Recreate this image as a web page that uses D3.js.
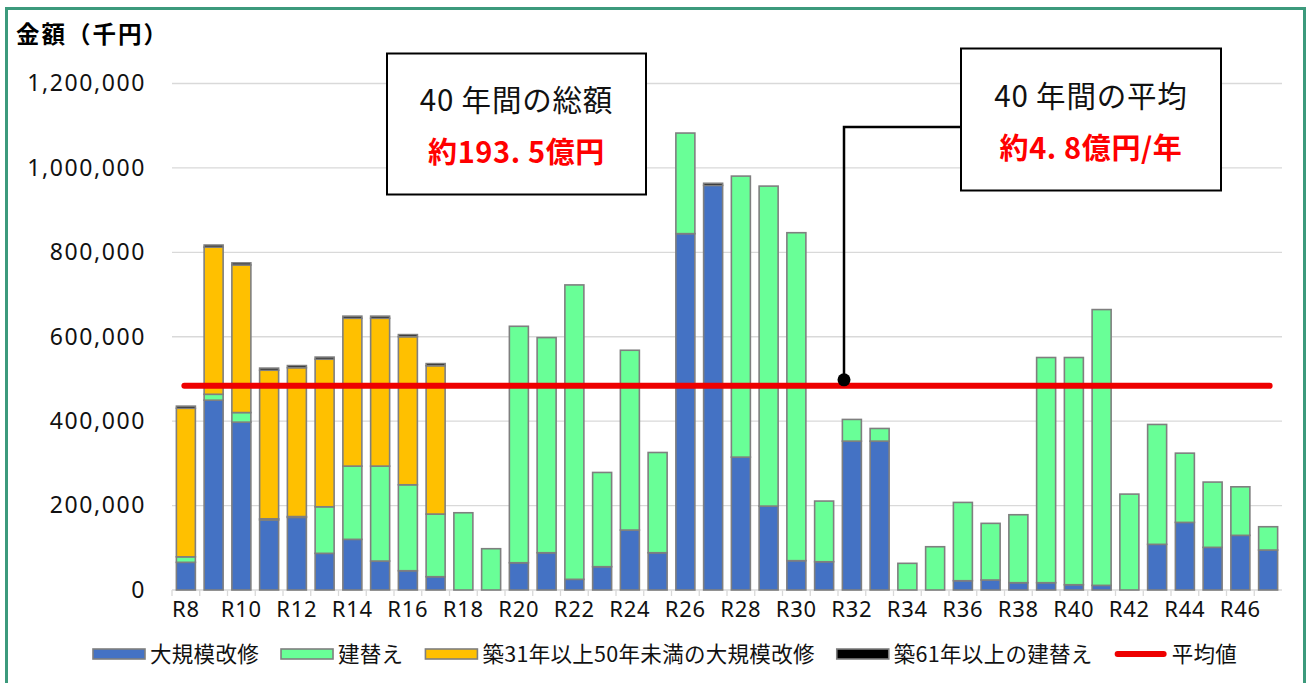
<!DOCTYPE html>
<html lang="ja">
<head>
    <meta charset="UTF-8">
    <title>金額（千円）</title>
    <script src="https://cdn.jsdelivr.net/npm/d3@7/dist/d3.min.js"></script>
    <style>
        body { margin: 0; background: #fff; }
        svg { display: block; font-family: "Noto Sans CJK JP", "Noto Sans", sans-serif; }
        .grid line { stroke: #d9d9d9; stroke-width: 1.3px; }
        .bar rect { stroke: #7f7f7f; stroke-width: 1.6px; }
        .num { font-family: "Noto Sans", "DejaVu Sans", sans-serif; }
    </style>
</head>
<body>
    <svg width=1311 height=683></svg>
    <script>
        // years R8 - R47
        var categories = ['R8','R9','R10','R11','R12','R13','R14','R15','R16','R17',
                          'R18','R19','R20','R21','R22','R23','R24','R25','R26','R27',
                          'R28','R29','R30','R31','R32','R33','R34','R35','R36','R37',
                          'R38','R39','R40','R41','R42','R43','R44','R45','R46','R47'];

        // 大規模改修
        var bigRepair = [65600, 449700, 397700, 165700, 172000, 86900, 120000, 68600, 45700, 31500,
                         0, 0, 64600, 88300, 25300, 55200, 142000, 88300, 844300, 958600,
                         314800, 198800, 69500, 67000, 352700, 352700, 0, 0, 22000, 23700,
                         17300, 17300, 12500, 11000, 0, 108200, 160200, 101100, 129500, 94700];
        // 建替え
        var rebuild = [13000, 14000, 22700, 3000, 2000, 110300, 173500, 224900, 203600, 148400,
                       183000, 97800, 560200, 509700, 697500, 223300, 426000, 237500, 238300, 0,
                       665800, 758100, 777000, 143700, 51400, 30000, 63200, 102500, 185500, 134200,
                       161000, 533500, 538300, 653400, 227200, 284000, 164000, 154600, 115000, 55200];
        // 築31年以上50年未満の大規模改修
        var oldRepair = [352000, 348600, 349600, 352000, 352700, 349600, 350300, 350300, 350800, 351500,
                         0, 0, 0, 0, 0, 0, 0, 0, 0, 0,
                         0, 0, 0, 0, 0, 0, 0, 0, 0, 0,
                         0, 0, 0, 0, 0, 0, 0, 0, 0, 0];
        // 築61年以上の建替え
        var oldRebuild = [5000, 5000, 5000, 5000, 5000, 5000, 5000, 5000, 5000, 5000,
                          0, 0, 0, 0, 0, 0, 0, 0, 0, 5000,
                          0, 0, 0, 0, 0, 0, 0, 0, 0, 0,
                          0, 0, 0, 0, 0, 0, 0, 0, 0, 0];

        var seriesNames = ['大規模改修', '建替え', '築31年以上50年未満の大規模改修', '築61年以上の建替え'];
        var seriesColors = ['#4472c4', '#69ff97', '#ffc000', '#000000'];
        var avgName = '平均値';
        var avgValue = 483750;   // 193.5億円 / 40年
        var yTicks = [0, 200000, 400000, 600000, 800000, 1000000, 1200000];
        var totalText = ['40 年間の総額', '約193. 5億円'];
        var meanText = ['40 年間の平均', '約4. 8億円/年'];

        var svg = d3.select('svg'),
            plotL = 172, plotR = 1282, plotT = 83.5, plotB = 590;

        var rows = categories.map(function(c, i) {
            return { cat: c, s0: bigRepair[i], s1: rebuild[i], s2: oldRepair[i], s3: oldRebuild[i] };
        });

        var xScale = d3.scaleBand().domain(categories).range([plotL, plotR])
                        .paddingInner(0.315).paddingOuter(0.1575),
            yScale = d3.scaleLinear().domain([0, 1200000]).range([plotB, plotT]);

        // outer frame
        svg.append('rect')
            .attr('x', 6.5).attr('y', 8.5).attr('width', 1298).attr('height', 685)
            .attr('fill', 'none').attr('stroke', '#3c9a7c').attr('stroke-width', 3);

        // title
        svg.append('text')
            .attr('x', 16).attr('y', 43)
            .attr('font-size', 23.5).attr('font-weight', 'bold').attr('letter-spacing', 2)
            .text('金額（千円）');

        // grid
        svg.append('g').classed('grid', true)
            .selectAll('line').data(yTicks.slice(1)).enter().append('line')
            .attr('x1', plotL).attr('x2', plotR)
            .attr('y1', function(d) { return yScale(d); })
            .attr('y2', function(d) { return yScale(d); });

        // y axis labels
        var yAxis = d3.axisLeft(yScale).tickValues(yTicks).tickSize(0).tickPadding(26)
                        .tickFormat(d3.format(','));
        var yG = svg.append('g').attr('transform', 'translate(' + plotL + ',0)').call(yAxis);
        yG.select('.domain').remove();
        yG.selectAll('text').classed('num', true)
            .attr('font-size', 23).attr('letter-spacing', 1.6).attr('fill', '#111');

        // x axis baseline + boundary ticks
        var step = xScale.step(), half = step * xScale.paddingInner() / 2;
        svg.append('line')
            .attr('x1', plotL).attr('x2', plotR).attr('y1', plotB).attr('y2', plotB)
            .attr('stroke', '#d9d9d9').attr('stroke-width', 1.3);
        svg.append('g').selectAll('line').data(categories).enter().append('line')
            .attr('x1', function(d) { return xScale(d) - half; })
            .attr('x2', function(d) { return xScale(d) - half; })
            .attr('y1', plotB).attr('y2', plotB + 6)
            .attr('stroke', '#d9d9d9').attr('stroke-width', 1.3);

        svg.append('g').selectAll('text')
            .data(categories.filter(function(d, i) { return i % 2 === 0; }))
            .enter().append('text')
            .classed('num', true)
            .attr('x', function(d) { return xScale(d) + xScale.bandwidth() / 2; })
            .attr('y', 617)
            .attr('text-anchor', 'middle')
            .attr('font-size', 22).attr('letter-spacing', 0.8).attr('fill', '#111')
            .text(function(d) { return d; });

        // stacked bars
        var stack = d3.stack().keys(['s0', 's1', 's2', 's3']);
        var layers = stack(rows);

        svg.append('g').selectAll('g').data(layers).enter().append('g')
            .classed('bar', true)
            .attr('fill', function(d, i) { return seriesColors[i]; })
            .selectAll('rect')
            .data(function(d) { return d.filter(function(p) { return p[1] - p[0] > 0; }); })
            .enter().append('rect')
            .attr('x', function(d) { return xScale(d.data.cat); })
            .attr('width', xScale.bandwidth())
            .attr('y', function(d) { return yScale(d[1]); })
            .attr('height', function(d) { return yScale(d[0]) - yScale(d[1]); });

        // average line
        var yAvg = yScale(avgValue);
        svg.append('line')
            .attr('x1', xScale('R8') + 8).attr('x2', xScale('R47') + xScale.bandwidth() - 8)
            .attr('y1', yAvg).attr('y2', yAvg)
            .attr('stroke', '#ee0000').attr('stroke-width', 6).attr('stroke-linecap', 'round');

        // callout boxes
        function callout(x, y, w, h, lines) {
            var g = svg.append('g');
            g.append('rect').attr('x', x).attr('y', y).attr('width', w).attr('height', h)
                .attr('fill', '#fff').attr('stroke', '#000').attr('stroke-width', 2);
            g.append('text').attr('x', x + w / 2).attr('y', y + h * 0.41)
                .attr('text-anchor', 'middle').attr('font-size', 29.5).attr('letter-spacing', 0.8)
                .attr('fill', '#111')
                .text(lines[0]);
            g.append('text').attr('x', x + w / 2).attr('y', y + h * 0.78)
                .attr('text-anchor', 'middle').attr('font-size', 29).attr('font-weight', 'bold')
                .attr('letter-spacing', 0.6).attr('fill', '#ff0000')
                .text(lines[1]);
        }
        callout(387, 53.5, 259, 141, totalText);

        // leader to average line
        var leadX = 844;
        svg.append('path')
            .attr('d', 'M' + 961 + ',' + 127 + 'H' + leadX + 'V' + (yAvg - 6))
            .attr('fill', 'none').attr('stroke', '#000').attr('stroke-width', 2.5);
        svg.append('circle').attr('cx', leadX).attr('cy', yAvg - 6).attr('r', 6.5).attr('fill', '#000');

        callout(961, 48.5, 260, 142, meanText);

        // legend
        var legItems = seriesNames.map(function(n, i) { return { name: n, color: seriesColors[i], line: false }; });
        legItems.push({ name: avgName, color: '#ee0000', line: true });

        var legG = svg.append('g');
        var lx = 0, gap = 22;
        legItems.forEach(function(d) {
            var g = legG.append('g').attr('transform', 'translate(' + lx + ',0)');
            if (d.line) {
                g.append('line').attr('x1', 3).attr('x2', 49).attr('y1', 0).attr('y2', 0)
                    .attr('stroke', d.color).attr('stroke-width', 6).attr('stroke-linecap', 'round');
            } else {
                g.append('rect').attr('x', 0).attr('y', -5).attr('width', 52).attr('height', 10)
                    .attr('fill', d.color).attr('stroke', '#7f7f7f').attr('stroke-width', 1.6);
            }
            var t = g.append('text').attr('x', 57).attr('y', 7.5).attr('font-size', 21.5)
                        .attr('letter-spacing', 0.3).attr('fill', '#111').text(d.name);
            lx += 57 + t.node().getComputedTextLength() + gap;
        });
        legG.attr('transform', 'translate(' + (93) + ',654)');
    </script>
</body>
</html>
